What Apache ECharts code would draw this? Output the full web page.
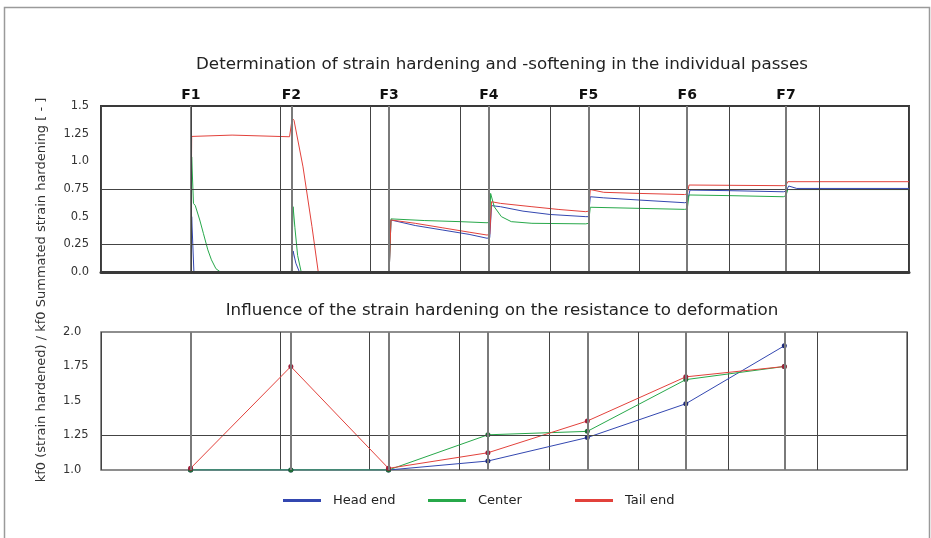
<!DOCTYPE html>
<html><head><meta charset="utf-8">
<script src="https://cdn.jsdelivr.net/npm/echarts@6/dist/echarts.min.js"></script>
<style>html,body{margin:0;padding:0;background:#fff}#c{width:931px;height:538px}</style>
</head><body><div id="c"></div>
<script>
// ---- data (x in stand-distance units: 0..9, one unit per vertical grid line) ----
const standNames = ['F1','F2','F3','F4','F5','F6','F7'];
const standPos = [1.0, 2.12, 3.21, 4.32, 5.43, 6.53, 7.63];

const upperGuides = [0.25, 0.75];
const lowerGuides = [1.25];
const legendNames = ['Head end', 'Center', 'Tail end'];

const headUpper = [[1.0,0],[1.01,0.5],[1.035,0],[2.12,0],[2.14,0.19],[2.17,0.08],[2.21,0],
  [3.21,0],[3.23,0.47],[3.5,0.42],[3.8,0.38],[4.1,0.34],[4.3,0.305],[4.33,0.31],[4.35,0.6],
  [4.45,0.59],[4.7,0.55],[5.0,0.52],[5.4,0.5],[5.43,0.5],[5.45,0.68],[5.6,0.67],[6.0,0.65],
  [6.5,0.626],[6.53,0.63],[6.56,0.74],[7.0,0.735],[7.6,0.725],[7.63,0.73],[7.66,0.777],
  [7.75,0.755],[9.0,0.755]];
const centerUpper = [[1.0,0],[1.01,1.04],[1.03,0.62],[1.05,0.6],[1.1,0.47],[1.14,0.35],
  [1.19,0.2],[1.23,0.11],[1.28,0.03],[1.33,0],[2.12,0],[2.14,0.59],[2.16,0.4],[2.19,0.15],
  [2.23,0],[3.21,0],[3.23,0.48],[3.6,0.465],[4.0,0.455],[4.3,0.445],[4.33,0.45],[4.34,0.71],
  [4.38,0.59],[4.46,0.5],[4.57,0.455],[4.8,0.44],[5.4,0.435],[5.43,0.44],[5.45,0.585],
  [6.0,0.575],[6.5,0.566],[6.53,0.57],[6.55,0.696],[7.0,0.69],[7.6,0.68],[7.63,0.69],
  [7.65,0.745],[9.0,0.745]];
const tailUpper = [[1.0,0],[1.01,1.225],[1.02,1.237],[1.46,1.237],[1.47,1.222],[2.1,1.222],
  [2.13,1.39],[2.15,1.37],[2.25,0.95],[2.35,0.41],[2.42,0],[3.21,0],[3.23,0.47],[3.5,0.44],
  [3.8,0.4],[4.1,0.36],[4.3,0.334],[4.33,0.34],[4.35,0.635],[4.45,0.62],[4.8,0.59],
  [5.1,0.565],[5.4,0.545],[5.43,0.55],[5.45,0.745],[5.6,0.72],[6.0,0.71],[6.5,0.70],
  [6.53,0.705],[6.55,0.786],[7.6,0.78],[7.63,0.785],[7.65,0.816],[9.0,0.816]];

const headLower = [1.0, 1.0, 1.0, 1.065, 1.235, 1.48, 1.9];
const centerLower = [1.0, 1.0, 1.0, 1.255, 1.28, 1.655, 1.75];
const tailLower = [1.012, 1.75, 1.012, 1.125, 1.355, 1.675, 1.75];

// ---- chart ----
const BLUE = '#3347b0', GREEN = '#27a84a', RED = '#e2413b';
const FONT = 'DejaVu Sans, Liberation Sans, Arial, sans-serif';
const pair = arr => arr.map((v, i) => [standPos[i], v]);
const fmt = v => (v === Math.round(v) ? v.toFixed(1) : String(v));

const chart = echarts.init(document.getElementById('c'), null, {renderer: 'canvas'});
const labelFont = {fontFamily: FONT, fontSize: 11.5, color: '#333'};

function standMarkLine(withLabels) {
  return {
    silent: true, symbol: 'none', animation: false,
    lineStyle: {color: '#7a7a7a', width: 2, type: 'solid'},
    label: withLabels ? {show: true, position: 'end', distance: 4,
      fontFamily: FONT, fontSize: 14, fontWeight: 'bold', color: '#111',
      formatter: p => p.name} : {show: false},
    data: standPos.map((x, i) => ({name: standNames[i], xAxis: x}))
  };
}
function guideMarkLine(vals) {
  return {silent: true, symbol: 'none', animation: false, label: {show: false},
    lineStyle: {color: '#444', width: 1.2, type: 'solid'},
    data: vals.map(v => ({yAxis: v}))};
}
const legendLeft = [283, 428, 575];

const option = {
  animation: false,
  backgroundColor: '#fff',
  title: [
    {text: 'Determination of strain hardening and -softening in the individual passes',
     left: 497, top: 51, textAlign: 'center',
     textStyle: {fontFamily: FONT, fontSize: 16.7, fontWeight: 'normal', color: '#222'}},
    {text: 'Influence of the strain hardening on the resistance to deformation',
     left: 497, top: 297, textAlign: 'center',
     textStyle: {fontFamily: FONT, fontSize: 16.7, fontWeight: 'normal', color: '#222'}}
  ],
  legend: legendNames.map((n, i) => ({
    data: [n], left: legendLeft[i], top: 494, padding: 0, icon: 'rect',
    itemWidth: 38, itemHeight: 3, selectedMode: false,
    textStyle: {fontFamily: FONT, fontSize: 13, color: '#222', padding: [0, 0, 0, 7]}
  })),
  graphic: [
    {type: 'rect', shape: {x: 4.5, y: 7.5, width: 925, height: 545},
     style: {fill: 'none', stroke: '#9a9a9a', lineWidth: 1.5}, silent: true},
    {type: 'text', x: 42, y: 290, rotation: Math.PI / 2,
     style: {text: 'kf0 (strain hardened) / kf0 Summated strain hardening [ - ]',
       fontFamily: FONT, fontSize: 13, fill: '#333',
       textAlign: 'center', textVerticalAlign: 'middle'}, silent: true}
  ],
  grid: [
    {left: 101, top: 106, width: 808, height: 166, show: true, borderColor: '#3a3a3a', borderWidth: 2, backgroundColor: '#fff'},
    {left: 101, top: 332, width: 806, height: 138, show: true, borderColor: '#6a6a6a', borderWidth: 1.5, backgroundColor: '#fff'}
  ],
  xAxis: [
    {gridIndex: 0, type: 'value', min: 0, max: 9, interval: 1, z: 10,
     axisLine: {show: true, onZero: false, lineStyle: {color: '#3a3a3a', width: 3}},
     axisTick: {show: false}, axisLabel: {show: false},
     splitLine: {show: true, lineStyle: {color: '#444', width: 1}}},
    {gridIndex: 1, type: 'value', min: 0, max: 9, interval: 1,
     axisLine: {show: false}, axisTick: {show: false}, axisLabel: {show: false},
     splitLine: {show: true, lineStyle: {color: '#444', width: 1}}}
  ],
  yAxis: [
    {gridIndex: 0, type: 'value', min: 0, max: 1.5, interval: 0.25,
     axisLine: {show: false}, axisTick: {show: false}, splitLine: {show: false},
     axisLabel: Object.assign({margin: 12, formatter: fmt}, labelFont)},
    {gridIndex: 1, type: 'value', min: 1, max: 2, interval: 0.25,
     axisLine: {show: false}, axisTick: {show: false}, splitLine: {show: false},
     axisLabel: Object.assign({margin: 38, align: 'left', formatter: fmt}, labelFont)}
  ],
  series: [
    {name: 'guides-u', type: 'line', xAxisIndex: 0, yAxisIndex: 0, data: [], silent: true,
     markLine: guideMarkLine(upperGuides)},
    {name: 'stands-u', type: 'line', xAxisIndex: 0, yAxisIndex: 0, data: [], silent: true,
     markLine: standMarkLine(true)},
    {name: 'guides-l', type: 'line', xAxisIndex: 1, yAxisIndex: 1, data: [], silent: true,
     markLine: guideMarkLine(lowerGuides)},
    {name: 'stands-l', type: 'line', xAxisIndex: 1, yAxisIndex: 1, data: [], silent: true,
     markLine: standMarkLine(false)},
    {name: 'Head end', type: 'line', xAxisIndex: 0, yAxisIndex: 0, data: headUpper, showSymbol: false,
     lineStyle: {color: BLUE, width: 1}, itemStyle: {color: BLUE}},
    {name: 'Center', type: 'line', xAxisIndex: 0, yAxisIndex: 0, data: centerUpper, showSymbol: false,
     lineStyle: {color: GREEN, width: 1}, itemStyle: {color: GREEN}},
    {name: 'Tail end', type: 'line', xAxisIndex: 0, yAxisIndex: 0, data: tailUpper, showSymbol: false,
     lineStyle: {color: RED, width: 1}, itemStyle: {color: RED}},
    {name: 'Head end', type: 'line', xAxisIndex: 1, yAxisIndex: 1, data: pair(headLower),
     symbol: 'circle', symbolSize: 5, lineStyle: {color: BLUE, width: 1}, itemStyle: {color: '#1f2a78'}},
    {name: 'Center', type: 'line', xAxisIndex: 1, yAxisIndex: 1, data: pair(centerLower),
     symbol: 'circle', symbolSize: 5, lineStyle: {color: GREEN, width: 1}, itemStyle: {color: '#1e6b35'}},
    {name: 'Tail end', type: 'line', xAxisIndex: 1, yAxisIndex: 1, data: pair(tailLower),
     symbol: 'circle', symbolSize: 5, lineStyle: {color: RED, width: 1}, itemStyle: {color: '#9e1f3a'}}
  ]
};
chart.setOption(option);
</script>
</body></html>
